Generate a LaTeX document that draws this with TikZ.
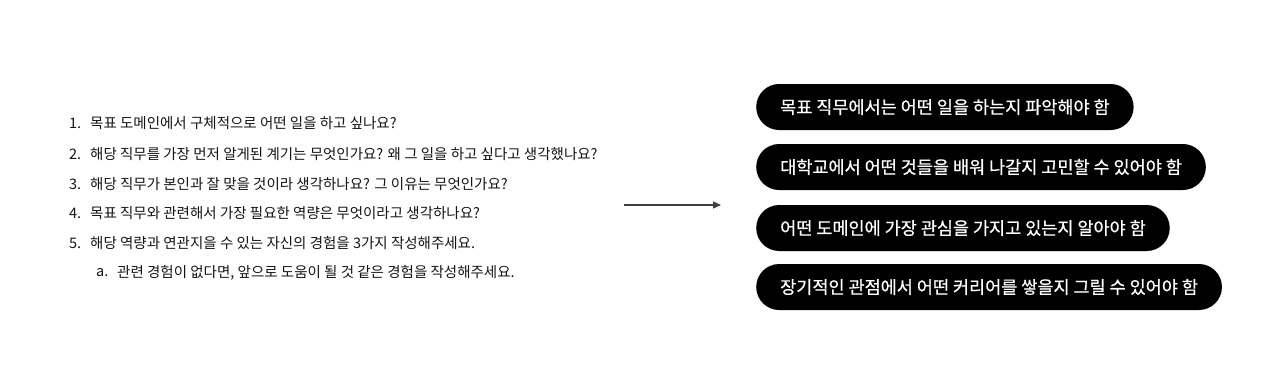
\documentclass[tikz,border=0pt]{standalone}
\usepackage{fontspec}
\setmainfont{Noto Sans CJK KR}
\newfontfamily\pillfont[FakeBold=0.6]{Noto Sans CJK KR}
\usetikzlibrary{arrows.meta}
\tikzset{
  pill/.style={fill=black, text=white, rounded corners=23pt, minimum height=46pt, inner xsep=24pt, anchor=west, font=\pillfont\fontsize{17.5}{19}\selectfont},
  item/.style={anchor=west, inner sep=0pt, font=\fontsize{14.5}{16}\selectfont, text=black!92},
  num/.style={anchor=west, inner sep=0pt, font=\fontsize{14.5}{16}\selectfont, text=black!92},
  conn/.style={draw=black!75, line width=1.2pt, -{Triangle[length=8pt,width=7pt]}}
}
\begin{document}
\begin{tikzpicture}[x=1pt,y=-1pt]
\useasboundingbox (0,0) rectangle (1280,372);
\node[num] (n1) at (69,123) {1.};
\node[item] (t1) at (90,123) {목표 도메인에서 구체적으로 어떤 일을 하고 싶나요?};
\node[num] (n2) at (69,154) {2.};
\node[item] (t2) at (90,154) {해당 직무를 가장 먼저 알게된 계기는 무엇인가요? 왜 그 일을 하고 싶다고 생각했나요?};
\node[num] (n3) at (69,184) {3.};
\node[item] (t3) at (90,184) {해당 직무가 본인과 잘 맞을 것이라 생각하나요? 그 이유는 무엇인가요?};
\node[num] (n4) at (69,213) {4.};
\node[item] (t4) at (90,213) {목표 직무와 관련해서 가장 필요한 역량은 무엇이라고 생각하나요?};
\node[num] (n5) at (69,243) {5.};
\node[item] (t5) at (90,243) {해당 역량과 연관지을 수 있는 자신의 경험을 3가지 작성해주세요.};
\node[num] (na) at (96,273) {a.};
\node[item] (ta) at (117,273) {관련 경험이 없다면, 앞으로 도움이 될 것 같은 경험을 작성해주세요.};

\coordinate (a0) at (624,205);
\coordinate (a1) at (721,205);
\draw[conn] (a0) -- (a1);

\node[pill] (p1) at (756,107) {목표 직무에서는 어떤 일을 하는지 파악해야 함};
\node[pill] (p2) at (756,167) {대학교에서 어떤 것들을 배워 나갈지 고민할 수 있어야 함};
\node[pill] (p3) at (756,228) {어떤 도메인에 가장 관심을 가지고 있는지 알아야 함};
\node[pill] (p4) at (756,287) {장기적인 관점에서 어떤 커리어를 쌓을지 그릴 수 있어야 함};
\end{tikzpicture}
\end{document}
